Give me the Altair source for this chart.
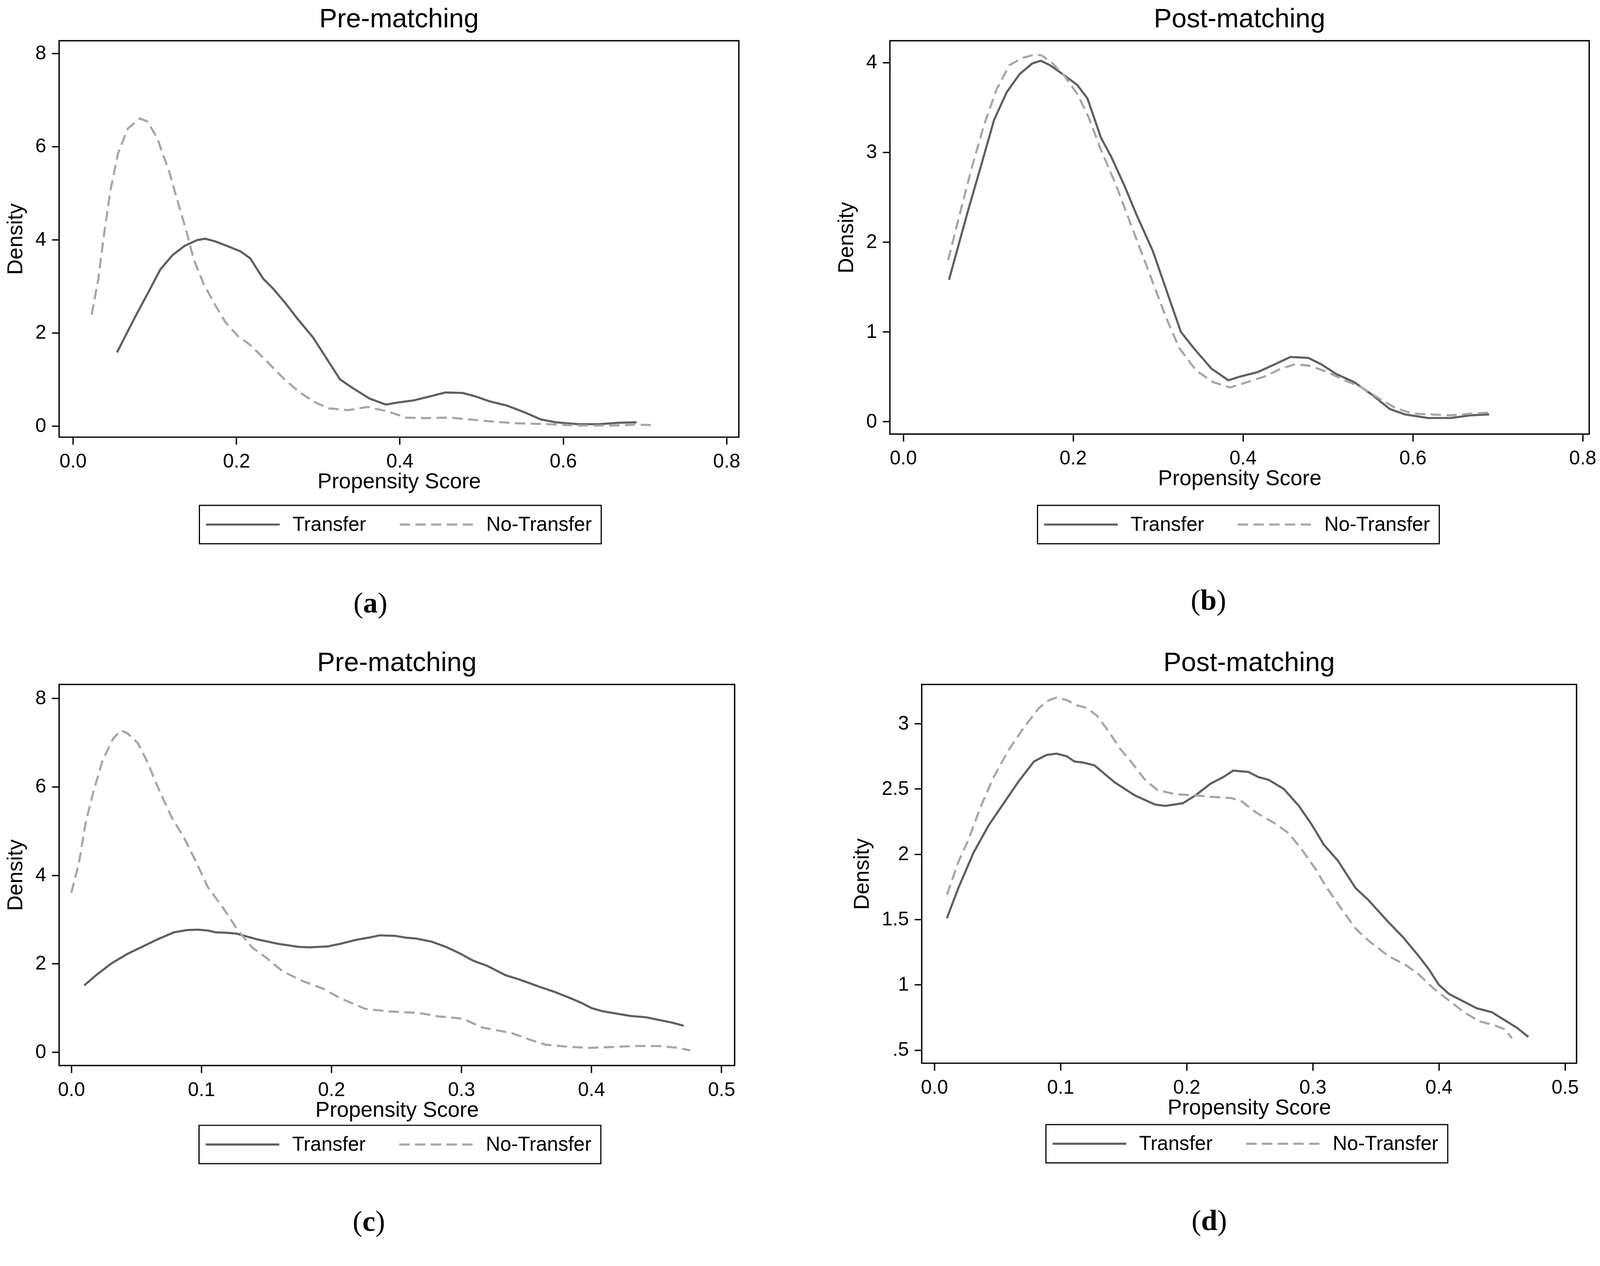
import altair as alt
import pandas as pd

# ---------------- data ----------------
# Transfer curve, panels (a) and (b)
ab_transfer_x = [0.054, 0.065, 0.077, 0.092, 0.107, 0.122, 0.137, 0.152, 0.162, 0.173, 0.188, 0.205,
                 0.217, 0.225, 0.233, 0.245, 0.260, 0.275, 0.294, 0.309, 0.327, 0.342, 0.363, 0.383,
                 0.396, 0.417, 0.438, 0.456, 0.477, 0.492, 0.510, 0.531, 0.552, 0.573, 0.591, 0.618,
                 0.645, 0.668, 0.690]
ab_transfer_y = [1.58, 1.96, 2.37, 2.86, 3.36, 3.67, 3.87, 3.99, 4.02, 3.97, 3.87, 3.75,
                 3.60, 3.38, 3.16, 2.95, 2.64, 2.30, 1.90, 1.49, 1.00, 0.82, 0.59, 0.46,
                 0.50, 0.55, 0.64, 0.72, 0.71, 0.64, 0.53, 0.44, 0.30, 0.14, 0.08, 0.04,
                 0.04, 0.07, 0.08]

# No-Transfer, panel (a) pre-matching
a_notransfer_x = [0.023, 0.031, 0.038, 0.046, 0.055, 0.067, 0.082, 0.091, 0.103, 0.118, 0.130, 0.139,
                  0.148, 0.160, 0.175, 0.187, 0.202, 0.217, 0.235, 0.259, 0.277, 0.295, 0.313, 0.337,
                  0.360, 0.384, 0.408, 0.432, 0.462, 0.498, 0.540, 0.581, 0.618, 0.660, 0.690, 0.708]
a_notransfer_y = [2.39, 3.14, 4.10, 5.06, 5.84, 6.38, 6.60, 6.54, 6.19, 5.45, 4.71, 4.18,
                  3.57, 3.05, 2.57, 2.22, 1.93, 1.74, 1.43, 1.00, 0.73, 0.52, 0.38, 0.34,
                  0.41, 0.32, 0.18, 0.17, 0.18, 0.12, 0.06, 0.04, 0.01, 0.01, 0.03, 0.02]

# No-Transfer, panel (b) post-matching
b_notransfer_x = [0.053, 0.065, 0.080, 0.095, 0.110, 0.125, 0.140, 0.155, 0.163, 0.175, 0.190, 0.205,
                  0.218, 0.232, 0.250, 0.270, 0.290, 0.310, 0.325, 0.345, 0.365, 0.385, 0.405, 0.425,
                  0.445, 0.462, 0.480, 0.500, 0.520, 0.540, 0.560, 0.580, 0.600, 0.620, 0.645, 0.670,
                  0.690]
b_notransfer_y = [1.80, 2.25, 2.80, 3.30, 3.70, 3.97, 4.05, 4.09, 4.08, 4.00, 3.85, 3.65,
                  3.40, 3.05, 2.65, 2.15, 1.65, 1.15, 0.82, 0.57, 0.44, 0.38, 0.44, 0.50,
                  0.59, 0.64, 0.62, 0.55, 0.46, 0.38, 0.26, 0.15, 0.09, 0.08, 0.07, 0.09,
                  0.10]

# Transfer curve, panels (c) and (d)
cd_transfer_x = [0.010, 0.019, 0.031, 0.043, 0.055, 0.067, 0.079, 0.089, 0.097, 0.105, 0.111, 0.119,
                 0.127, 0.143, 0.159, 0.175, 0.183, 0.197, 0.207, 0.219, 0.229, 0.237, 0.249, 0.257,
                 0.265, 0.277, 0.289, 0.299, 0.309, 0.320, 0.334, 0.344, 0.360, 0.372, 0.384, 0.392,
                 0.400, 0.408, 0.420, 0.430, 0.442, 0.452, 0.462, 0.471]
cd_transfer_y = [1.51, 1.74, 2.01, 2.22, 2.39, 2.56, 2.71, 2.76, 2.77, 2.75, 2.71, 2.70,
                 2.68, 2.55, 2.45, 2.38, 2.37, 2.39, 2.45, 2.54, 2.59, 2.64, 2.63, 2.59,
                 2.57, 2.50, 2.37, 2.23, 2.07, 1.95, 1.74, 1.65, 1.48, 1.36, 1.22, 1.12,
                 1.00, 0.93, 0.87, 0.82, 0.79, 0.73, 0.67, 0.60]

# No-Transfer, panel (c) pre-matching
c_notransfer_x = [0.000, 0.006, 0.011, 0.017, 0.024, 0.032, 0.038, 0.043, 0.051, 0.058, 0.068, 0.077,
                  0.087, 0.096, 0.105, 0.117, 0.128, 0.139, 0.151, 0.162, 0.177, 0.194, 0.207, 0.226,
                  0.245, 0.267, 0.282, 0.301, 0.316, 0.339, 0.354, 0.365, 0.384, 0.399, 0.418, 0.433,
                  0.452, 0.467, 0.476]
c_notransfer_y = [3.60, 4.30, 5.18, 5.89, 6.59, 7.08, 7.27, 7.21, 6.99, 6.59, 5.89, 5.32,
                  4.83, 4.30, 3.73, 3.25, 2.76, 2.37, 2.11, 1.84, 1.62, 1.43, 1.22, 0.98,
                  0.92, 0.89, 0.81, 0.76, 0.56, 0.43, 0.27, 0.17, 0.12, 0.10, 0.12, 0.14,
                  0.14, 0.10, 0.04]

# No-Transfer, panel (d) post-matching
d_notransfer_x = [0.010, 0.019, 0.027, 0.037, 0.047, 0.059, 0.071, 0.083, 0.091, 0.097, 0.105, 0.113,
                  0.121, 0.129, 0.139, 0.147, 0.155, 0.167, 0.177, 0.191, 0.207, 0.219, 0.235, 0.243,
                  0.255, 0.271, 0.281, 0.291, 0.302, 0.310, 0.320, 0.334, 0.344, 0.360, 0.374, 0.384,
                  0.396, 0.408, 0.420, 0.432, 0.444, 0.452, 0.458]
d_notransfer_y = [1.69, 1.94, 2.11, 2.37, 2.59, 2.80, 2.97, 3.12, 3.18, 3.20, 3.18, 3.14,
                  3.12, 3.06, 2.93, 2.81, 2.72, 2.57, 2.49, 2.46, 2.45, 2.44, 2.43, 2.41,
                  2.32, 2.23, 2.16, 2.04, 1.89, 1.76, 1.62, 1.43, 1.34, 1.22, 1.15, 1.08,
                  0.97, 0.88, 0.79, 0.72, 0.69, 0.66, 0.59]

groups = ["Transfer", "No-Transfer"]
titles = ["Pre-matching", "Post-matching", "Pre-matching", "Post-matching"]
x_ticks_top = [0.0, 0.2, 0.4, 0.6, 0.8]
x_ticks_bottom = [0.0, 0.1, 0.2, 0.3, 0.4, 0.5]
y_ticks_a = [0, 2, 4, 6, 8]
y_ticks_b = [0, 1, 2, 3, 4]
y_ticks_c = [0, 2, 4, 6, 8]
y_ticks_d = [0.5, 1, 1.5, 2, 2.5, 3]

# ---------------- styling ----------------
FONT = "Liberation Sans"
SERIF = "Liberation Serif"
DARK = "#5f5f5f"
LIGHT = "#a6a6a6"
LW = 5.5
SYM_R = 19.2          # legend line = 10 * SYM_R long (custom path below)


def panel(title, tx, ty, nx, ny, xdom, ydom, xticks, yticks, w, h,
          leg_xy, letter, lab_xy, half, ylabel_expr=None):
    df = pd.DataFrame({
        "x": tx + nx,
        "y": ty + ny,
        "group": [groups[0]] * len(tx) + [groups[1]] * len(nx),
        "order": list(range(len(tx))) + list(range(len(nx))),
    })
    leg = alt.Legend(title=None, orient="none", legendX=leg_xy[0], legendY=leg_xy[1],
                     direction="horizontal", columns=2, symbolType="M-1.7,0H8.3",
                     symbolSize=(2 * SYM_R) ** 2, symbolStrokeWidth=LW, labelFont=FONT,
                     labelFontSize=52, labelColor="black", labelOffset=167,
                     columnPadding=76, padding=24, strokeColor="black", labelLimit=2000)
    yaxis_kw = dict(values=yticks, title="Density")
    if ylabel_expr:
        yaxis_kw["labelExpr"] = ylabel_expr
    lines = alt.Chart(df).mark_line(strokeWidth=LW).encode(
        x=alt.X("x:Q", scale=alt.Scale(domain=xdom, nice=False, zero=False),
                axis=alt.Axis(values=xticks, format=".1f", title="Propensity Score")),
        y=alt.Y("y:Q", scale=alt.Scale(domain=ydom, nice=False, zero=False),
                axis=alt.Axis(**yaxis_kw)),
        color=alt.Color("group:N", scale=alt.Scale(domain=groups, range=[DARK, LIGHT]), legend=leg),
        strokeDash=alt.StrokeDash("group:N", scale=alt.Scale(domain=groups, range=[[1, 0], [27, 14]]),
                                  legend=leg),
        order="order:Q",
    )
    lab_df = pd.DataFrame({"o": ["("], "l": [letter], "c": [")"]})
    base = alt.Chart(lab_df)
    lp = base.mark_text(font=SERIF, fontSize=76, align="right", baseline="middle", color="black").encode(
        x=alt.value(lab_xy[0] - half), y=alt.value(lab_xy[1]), text="o:N")
    ll = base.mark_text(font=SERIF, fontSize=76, fontWeight="bold", align="center", baseline="middle",
                        color="black").encode(x=alt.value(lab_xy[0]), y=alt.value(lab_xy[1]), text="l:N")
    lr = base.mark_text(font=SERIF, fontSize=76, align="left", baseline="middle", color="black").encode(
        x=alt.value(lab_xy[0] + half), y=alt.value(lab_xy[1]), text="c:N")
    return alt.layer(lines, lp, ll, lr).properties(
        width=w, height=h,
        title=alt.TitleParams(text=title, font=FONT, fontSize=70, fontWeight="normal", color="black",
                              anchor="middle", frame="group", offset=20),
    )


pa = panel(titles[0], ab_transfer_x, ab_transfer_y, a_notransfer_x, a_notransfer_y,
           [-0.0169, 0.8151], [-0.239, 8.27], x_ticks_top, y_ticks_a, 1773, 1034,
           (366, 1212), "a", (812, 1468), 19)
pb = panel(titles[1], ab_transfer_x, ab_transfer_y, b_notransfer_x, b_notransfer_y,
           [-0.0156, 0.8078], [-0.139, 4.243], x_ticks_top, y_ticks_b, 1824, 1026,
           (385, 1212), "b", (831, 1461), 21)
pc = panel(titles[2], cd_transfer_x, cd_transfer_y, c_notransfer_x, c_notransfer_y,
           [-0.0094, 0.5102], [-0.30, 8.31], x_ticks_bottom, y_ticks_c, 1762, 994,
           (365, 1150), "c", (808, 1402), 17)
pd_ = panel(titles[3], cd_transfer_x, cd_transfer_y, d_notransfer_x, d_notransfer_y,
            [-0.0100, 0.5092], [0.399, 3.30], x_ticks_bottom, y_ticks_d, 1708, 988,
            (324, 1148), "d", (750, 1400), 21,
            ylabel_expr="datum.value == 0.5 ? '.5' : toString(datum.value)")

row1 = alt.hconcat(pa, pb, spacing=244).resolve_scale(color="independent", strokeDash="independent")
row2 = alt.hconcat(pc, pd_, spacing=299).resolve_scale(color="independent", strokeDash="independent")

chart = alt.vconcat(row1, row2, spacing=78).resolve_scale(
    color="independent", strokeDash="independent"
).properties(
    padding={"left": 2, "top": -25, "right": 0, "bottom": 0},
    background="white",
).configure_view(
    stroke="black", strokeWidth=3.5
).configure_axis(
    domain=False, grid=False, tickColor="black", tickWidth=3.5, tickSize=19,
    labelFont=FONT, labelFontSize=51, labelColor="black", labelFlush=False,
    labelOverlap=False, labelBound=False,
    titleFont=FONT, titleFontSize=56, titleFontWeight="normal", titleColor="black",
).configure_axisX(
    labelPadding=20, titlePadding=0
).configure_axisY(
    labelPadding=15, titlePadding=22
).configure_legend(
    strokeWidth=3
)

chart.save("out.html", embed_options={"renderer": "svg", "actions": False})
